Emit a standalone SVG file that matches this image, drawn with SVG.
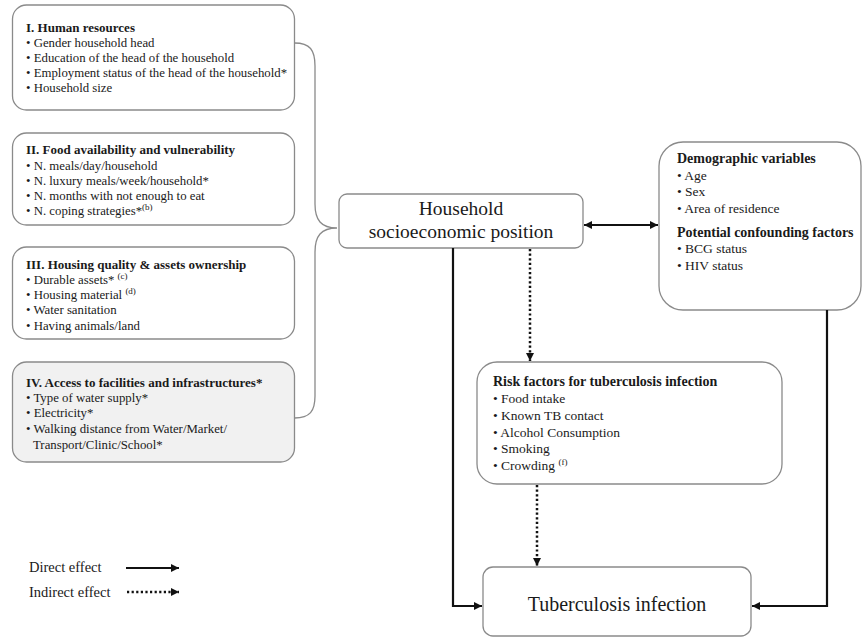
<svg xmlns="http://www.w3.org/2000/svg" width="863" height="640" viewBox="0 0 863 640">
<defs>
<marker id="ah" viewBox="0 0 10 10" refX="10" refY="5" markerWidth="9" markerHeight="8" orient="auto-start-reverse" markerUnits="userSpaceOnUse">
<path d="M0,0 L10,5 L0,10 z" fill="#111"/>
</marker>
<style>
.box{fill:#fff;stroke:#8a8a8a;stroke-width:1.3}
.t{font-family:"Liberation Serif","Times New Roman",serif;fill:#1a1a1a}
.s{font-size:12.8px}
.h{font-size:13px;font-weight:bold}
.m{font-size:13.5px}
.hm{font-size:14px;font-weight:bold}
.big{font-size:19.5px}
.sup{font-size:9px}
.solid{fill:none;stroke:#111;stroke-width:2.2}
.dot{fill:none;stroke:#111;stroke-width:2.5;stroke-dasharray:2.2 2.4}
.brace{fill:none;stroke:#8a8a8a;stroke-width:1.3}
</style>
</defs>

<g id="box-human">
<rect class="box" x="12.5" y="5" width="282" height="105" rx="14"/>
<text class="t h" x="26" y="32">I. Human resources</text>
<text class="t s" x="26" y="47">• Gender household head</text>
<text class="t s" x="26" y="62">• Education of the head of the household</text>
<text class="t s" x="26" y="77">• Employment status of the head of the household*</text>
<text class="t s" x="26" y="92">• Household size</text>
</g>

<g id="box-food">
<rect class="box" x="12.5" y="133" width="282" height="92" rx="14"/>
<text class="t h" x="26" y="154">II. Food availability and vulnerability</text>
<text class="t s" x="26" y="170">• N. meals/day/household</text>
<text class="t s" x="26" y="185">• N. luxury meals/week/household*</text>
<text class="t s" x="26" y="200">• N. months with not enough to eat</text>
<text class="t s" x="26" y="215">• N. coping strategies*<tspan class="sup" dy="-5">(b)</tspan></text>
</g>

<g id="box-housing">
<rect class="box" x="12.5" y="247" width="282" height="92" rx="14"/>
<text class="t h" x="26" y="269">III. Housing quality &amp; assets ownership</text>
<text class="t s" x="26" y="284">• Durable assets* <tspan class="sup" dy="-5">(c)</tspan></text>
<text class="t s" x="26" y="299">• Housing material <tspan class="sup" dy="-5">(d)</tspan></text>
<text class="t s" x="26" y="314">• Water sanitation</text>
<text class="t s" x="26" y="330">• Having animals/land</text>
</g>

<g id="box-access">
<rect class="box" x="12.5" y="362" width="282" height="100" rx="14" style="fill:#f1f1f1"/>
<text class="t h" x="26" y="387">IV. Access to facilities and infrastructures*</text>
<text class="t s" x="26" y="402">• Type of water supply*</text>
<text class="t s" x="26" y="417">• Electricity*</text>
<text class="t s" x="26" y="433">• Walking distance from Water/Market/</text>
<text class="t s" x="33" y="449">Transport/Clinic/School*</text>
</g>

<g id="box-household">
<rect class="box" x="339" y="194" width="244" height="54" rx="8"/>
<text class="t big" x="461" y="215" text-anchor="middle">Household</text>
<text class="t big" x="461" y="238" text-anchor="middle">socioeconomic position</text>
</g>

<g id="box-demographic">
<rect class="box" x="659" y="142" width="202" height="168" rx="24"/>
<text class="t hm" x="677" y="163">Demographic variables</text>
<text class="t m" x="677" y="180">• Age</text>
<text class="t m" x="677" y="196">• Sex</text>
<text class="t m" x="677" y="213">• Area of residence</text>
<text class="t hm" x="677" y="237">Potential confounding factors</text>
<text class="t m" x="677" y="253">• BCG status</text>
<text class="t m" x="677" y="270">• HIV status</text>
</g>

<g id="box-risk">
<rect class="box" x="477" y="362" width="305" height="122" rx="20"/>
<text class="t hm" x="493" y="386">Risk factors for tuberculosis infection</text>
<text class="t m" x="493" y="403">• Food intake</text>
<text class="t m" x="493" y="420">• Known TB contact</text>
<text class="t m" x="493" y="437">• Alcohol Consumption</text>
<text class="t m" x="493" y="453">• Smoking</text>
<text class="t m" x="493" y="470">• Crowding <tspan class="sup" dy="-5">(f)</tspan></text>
</g>

<g id="box-tb">
<rect class="box" x="483" y="567" width="268" height="69" rx="10"/>
<text class="t" style="font-size:20px" x="617" y="611" text-anchor="middle">Tuberculosis infection</text>
</g>

<g id="legend">
<text class="t" style="font-size:14.5px" x="29" y="572">Direct effect</text>
<text class="t" style="font-size:14.5px" x="29" y="597">Indirect effect</text>
<line class="solid" x1="126" y1="568" x2="179" y2="568" marker-end="url(#ah)"/>
<line class="dot" x1="127" y1="592" x2="179" y2="592" marker-end="url(#ah)"/>
</g>

<g id="connectors">
<path class="brace" d="M294.5,43 C310,43 315,50 315,66 L315,204 C315,220 321,228 337,228 C321,228 315,236 315,252 L315,396 C315,411 310,418 294.5,418"/>
<line class="solid" x1="584" y1="225" x2="658" y2="225" marker-start="url(#ah)" marker-end="url(#ah)"/>
<line class="dot" x1="530" y1="249" x2="530" y2="361" marker-end="url(#ah)"/>
<line class="dot" x1="537" y1="485" x2="537" y2="566" marker-end="url(#ah)"/>
<path class="solid" d="M453,248 L453,606 L482,606" marker-end="url(#ah)"/>
<path class="solid" d="M827,310 L827,606 L752,606" marker-end="url(#ah)"/>
</g>
</svg>
